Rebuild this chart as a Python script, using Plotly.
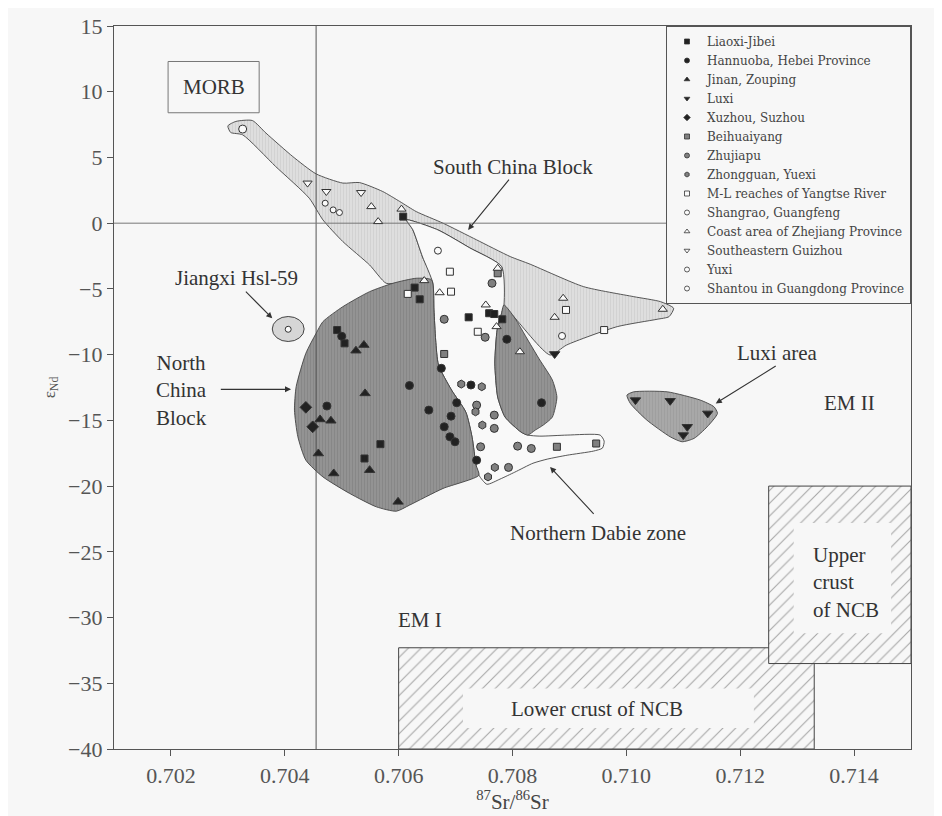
import plotly.graph_objects as go

# ---------------- data ----------------
SERIES_NAMES = ["Liaoxi-Jibei", "Hannuoba, Hebei Province", "Jinan, Zouping", "Luxi",
                "Xuzhou, Suzhou", "Beihuaiyang", "Zhujiapu", "Zhongguan, Yuexi",
                "M-L reaches of Yangtse River", "Shangrao, Guangfeng",
                "Coast area of Zhejiang Province", "Southeastern Guizhou", "Yuxi",
                "Shantou in Guangdong Province"]

liaoxi_x = [0.70608, 0.70628, 0.70637, 0.70723, 0.70759, 0.70768, 0.70782, 0.70492, 0.70505, 0.70568, 0.70540]
liaoxi_y = [0.50, -4.90, -5.79, -7.16, -6.85, -6.91, -7.31, -8.13, -9.14, -16.81, -17.90]

hannuoba_x = [0.70790, 0.70500, 0.70675, 0.70619, 0.70727, 0.70702, 0.70653, 0.70474, 0.70692, 0.70680, 0.70690, 0.70699, 0.70737, 0.70851]
hannuoba_y = [-8.83, -8.60, -11.04, -12.35, -12.31, -13.66, -14.22, -13.91, -14.68, -15.49, -16.25, -16.63, -18.03, -13.66]

jinan_x = [0.70539, 0.70525, 0.70541, 0.70462, 0.70481, 0.70459, 0.70549, 0.70486, 0.70599]
jinan_y = [-9.27, -9.70, -12.95, -14.93, -15.03, -17.52, -18.79, -19.04, -21.20]

luxi_x = [0.70874, 0.71016, 0.71077, 0.71143, 0.71107, 0.71100]
luxi_y = [-9.95, -13.46, -13.51, -14.47, -15.49, -16.12]

xuzhou_x = [0.70437, 0.70449]
xuzhou_y = [-14.01, -15.49]

beihuai_x = [0.70774, 0.70680, 0.70878, 0.70947]
beihuai_y = [-3.81, -9.95, -17.01, -16.76]

zhujiapu_x = [0.70764, 0.70680, 0.70752, 0.70737, 0.70768, 0.70768, 0.70744, 0.70793, 0.70809, 0.70833]
zhujiapu_y = [-4.57, -7.31, -8.68, -13.84, -14.60, -15.61, -17.01, -18.58, -16.96, -17.14]

zhongguan_x = [0.70710, 0.70746, 0.70735, 0.70747, 0.70769, 0.70757]
zhongguan_y = [-12.24, -12.44, -14.35, -15.36, -18.58, -19.30]

ml_x = [0.70690, 0.70616, 0.70692, 0.70739, 0.70894, 0.70961]
ml_y = [-3.69, -5.38, -5.21, -8.26, -6.60, -8.13]

shangrao_x = [0.70669, 0.70887]
shangrao_y = [-2.09, -8.58]

coast_x = [0.70552, 0.70564, 0.70605, 0.70645, 0.70672, 0.70774, 0.70753, 0.70772, 0.70813, 0.70874, 0.70889, 0.71064]
coast_y = [1.26, 0.12, 1.07, -4.37, -5.29, -3.43, -6.22, -7.87, -9.78, -7.16, -5.71, -6.55]

guizhou_x = [0.70440, 0.70473, 0.70534]
guizhou_y = [3.05, 2.41, 2.33]

yuxi_x = [0.70406, 0.70471, 0.70485, 0.70496]
yuxi_y = [-8.07, 1.52, 1.01, 0.81]

shantou_x = [0.70326]
shantou_y = [7.16]

# field outlines
scb_x = [0.70300, 0.70314, 0.70343, 0.70367, 0.70414, 0.70455, 0.70502, 0.70531, 0.70572, 0.70602, 0.70631,
         0.70678, 0.70737, 0.70796, 0.70831, 0.70925, 0.71013, 0.71060, 0.71083, 0.71075, 0.71054, 0.70984,
         0.70895, 0.70866, 0.70800, 0.70781, 0.70781, 0.70725, 0.70669, 0.70614, 0.70625, 0.70642, 0.70660,
         0.70602, 0.70578, 0.70549, 0.70502, 0.70467, 0.70443, 0.70384, 0.70326, 0.70305]
scb_y = [7.40, 7.74, 7.81, 6.85, 5.07, 3.75, 3.05, 3.09, 2.41, 1.65, 0.88,
         0.00, -1.27, -2.54, -3.12, -4.83, -5.59, -5.97, -6.47, -7.11, -7.31, -7.87,
         -9.27, -10.03, -7.00, -6.20, -3.31, -1.88, -0.51, 0.25, -0.51, -2.57, -4.55,
         -4.55, -4.57, -3.18, -1.40, 0.25, 1.90, 4.31, 6.72, 6.90]

dabie_x = [0.70614, 0.70625, 0.70642, 0.70660, 0.70662, 0.70665, 0.70670, 0.70693, 0.70718, 0.70729, 0.70736,
           0.70741, 0.70755, 0.70778, 0.70804, 0.70836, 0.70861, 0.70896, 0.70942, 0.70958, 0.70961, 0.70954,
           0.70896, 0.70848, 0.70827, 0.70815, 0.70787, 0.70774, 0.70769, 0.70773, 0.70780, 0.70785, 0.70781,
           0.70725, 0.70669]
dabie_y = [0.25, -0.51, -2.57, -4.55, -6.60, -8.89, -10.79, -12.70, -14.37, -16.28, -18.41,
           -19.17, -19.86, -19.47, -18.94, -18.26, -17.95, -17.65, -17.34, -17.11, -16.58, -16.12,
           -16.12, -16.20, -16.12, -15.89, -14.75, -13.23, -10.64, -8.13, -6.98, -6.22, -3.31,
           -1.88, -0.51]

ncb_x = [0.70467, 0.70502, 0.70549, 0.70590, 0.70631, 0.70658, 0.70662, 0.70665, 0.70670, 0.70693, 0.70718,
         0.70729, 0.70736, 0.70741, 0.70678, 0.70619, 0.70596, 0.70561, 0.70514, 0.70467, 0.70437, 0.70423,
         0.70417, 0.70420, 0.70437, 0.70455]
ncb_y = [-7.49, -6.35, -5.21, -4.57, -4.19, -4.32, -6.60, -8.89, -10.79, -12.70, -14.37,
         -16.28, -18.41, -19.17, -20.18, -21.45, -21.91, -21.58, -20.56, -19.30, -18.03, -16.25,
         -14.22, -12.44, -9.90, -8.38]

lobe_x = [0.70785, 0.70804, 0.70827, 0.70848, 0.70870, 0.70878, 0.70870, 0.70854, 0.70840, 0.70827,
          0.70815, 0.70787, 0.70774, 0.70769, 0.70773, 0.70780]
lobe_y = [-6.22, -7.21, -8.89, -10.41, -11.93, -13.23, -14.75, -15.36, -15.74, -16.12,
          -15.89, -14.75, -13.23, -10.64, -8.13, -6.98]

luxi_area_x = [0.71001, 0.71013, 0.71072, 0.71130, 0.71154, 0.71160, 0.71142, 0.71119, 0.71098, 0.71077, 0.71036, 0.71007]
luxi_area_y = [-13.08, -12.83, -12.83, -13.46, -13.97, -14.47, -15.49, -16.37, -16.63, -16.25, -14.98, -13.71]

jiangxi_x = [0.70378, 0.70434]
jiangxi_y = [-9.00, -7.10]

morb_x = [0.70195, 0.70355]
morb_y = [8.40, 12.30]

lower_crust_x = [0.70600, 0.71330]
lower_crust_y = [-40.0, -32.3]
upper_crust_x = [0.71250, 0.71500]
upper_crust_y = [-33.5, -20.0]

BSE_SR = 0.70455
CHUR_ND = 0.0

x_ticks = [0.702, 0.704, 0.706, 0.708, 0.710, 0.712, 0.714]
x_tick_text = ["0.702", "0.704", "0.706", "0.708", "0.710", "0.712", "0.714"]
y_ticks = [15, 10, 5, 0, -5, -10, -15, -20, -25, -30, -35, -40]

# ---------------- figure ----------------
BG = "#f7f7f7"
INK = "#444444"
FONT = "Liberation Serif"

fig = go.Figure()


def poly(xs, ys, fill, pattern=None, lw=0.9):
    fig.add_trace(go.Scatter(
        x=xs + xs[:1], y=ys + ys[:1], mode="lines", fill="toself", fillcolor=fill,
        fillpattern=pattern, line=dict(color=INK, width=lw, shape="spline", smoothing=0.6),
        hoverinfo="skip", showlegend=False))


def box(xr, yr, pattern):
    xs = [xr[0], xr[1], xr[1], xr[0], xr[0]]
    ys = [yr[0], yr[0], yr[1], yr[1], yr[0]]
    fig.add_trace(go.Scatter(x=xs, y=ys, mode="lines", fill="toself", fillcolor=BG,
                             fillpattern=pattern, line=dict(color=INK, width=1),
                             hoverinfo="skip", showlegend=False))


hatch = dict(shape="/", fgcolor="#555555", bgcolor=BG, size=9, solidity=0.12)
box(lower_crust_x, lower_crust_y, hatch)
box(upper_crust_x, upper_crust_y, hatch)

poly(scb_x, scb_y, "#dcdcdc", dict(shape="|", fgcolor="#c6c6c6", bgcolor="#dedede", size=3, solidity=0.35))
poly(dabie_x, dabie_y, "#f9f9f9")
poly(ncb_x, ncb_y, "#8e8e8e", dict(shape="|", fgcolor="#7c7c7c", bgcolor="#939393", size=3, solidity=0.35))
poly(lobe_x, lobe_y, "#8e8e8e", dict(shape="|", fgcolor="#7c7c7c", bgcolor="#939393", size=3, solidity=0.35))
poly(luxi_area_x, luxi_area_y, "#a4a4a4", dict(shape="|", fgcolor="#959595", bgcolor="#a8a8a8", size=3, solidity=0.35))

# reference lines
fig.add_trace(go.Scatter(x=[BSE_SR, BSE_SR], y=[-40, 15], mode="lines",
                         line=dict(color="#555555", width=1), hoverinfo="skip", showlegend=False))
fig.add_trace(go.Scatter(x=[0.701, 0.7108], y=[CHUR_ND, CHUR_ND], mode="lines",
                         line=dict(color="#777777", width=1), hoverinfo="skip", showlegend=False))

DARK = "#222222"
MID = "#808080"
WHITE = "#fafafa"
series = [
    (liaoxi_x, liaoxi_y, "square", DARK, 7),
    (hannuoba_x, hannuoba_y, "circle", DARK, 8),
    (jinan_x, jinan_y, "triangle-up", DARK, 9),
    (luxi_x, luxi_y, "triangle-down", DARK, 9),
    (xuzhou_x, xuzhou_y, "diamond", DARK, 9),
    (beihuai_x, beihuai_y, "square", MID, 7),
    (zhujiapu_x, zhujiapu_y, "circle", MID, 8),
    (zhongguan_x, zhongguan_y, "hexagon", MID, 8),
    (ml_x, ml_y, "square", WHITE, 7),
    (shangrao_x, shangrao_y, "circle", WHITE, 7),
    (coast_x, coast_y, "triangle-up", WHITE, 8),
    (guizhou_x, guizhou_y, "triangle-down", WHITE, 8),
    (yuxi_x, yuxi_y, "circle", WHITE, 6),
    (shantou_x, shantou_y, "circle", WHITE, 8),
]
for name, (xs, ys, sym, col, sz) in zip(SERIES_NAMES, series):
    fig.add_trace(go.Scatter(x=xs, y=ys, mode="markers", name=name, legendgroup=name, showlegend=False,
                             marker=dict(symbol=sym, color=col, size=sz,
                                         line=dict(color="#333333", width=1))))
    # compact legend entry (small symbol as in the printed key)
    fig.add_trace(go.Scatter(x=[None], y=[None], mode="markers", name=name, legendgroup=name,
                             marker=dict(symbol=sym, color=col, size=5,
                                         line=dict(color="#333333", width=0.8))))

shapes = [
    dict(type="circle", xref="x", yref="y", x0=jiangxi_x[0], x1=jiangxi_x[1], y0=jiangxi_y[0], y1=jiangxi_y[1],
         fillcolor="#d6d6d6", line=dict(color=INK, width=1), layer="below"),
    dict(type="rect", xref="x", yref="y", x0=morb_x[0], x1=morb_x[1], y0=morb_y[0], y1=morb_y[1],
         line=dict(color="#777777", width=1), layer="below"),
    dict(type="rect", xref="x", yref="y", x0=0.70713, x1=0.71224, y0=-38.4, y1=-35.4,
         fillcolor=BG, line=dict(width=0), layer="above"),
    dict(type="rect", xref="x", yref="y", x0=0.71294, x1=0.71465, y0=-31.2, y1=-22.8,
         fillcolor=BG, line=dict(width=0), layer="above"),
]

TF = dict(family=FONT, size=21, color="#333333")


def label(text, x, y, **kw):
    return dict(text=text, x=x, y=y, xref="x", yref="y", showarrow=False, font=TF, **kw)


def arrow(x0, y0, x1, y1):
    return dict(text="", x=x1, y=y1, ax=x0, ay=y0, xref="x", yref="y", axref="x", ayref="y",
                showarrow=True, arrowhead=2, arrowsize=1.1, arrowwidth=1.1, arrowcolor="#333333")


annotations = [
    label("MORB", (morb_x[0] + morb_x[1]) / 2, (morb_y[0] + morb_y[1]) / 2),
    label("South China Block", 0.70801, 4.31),
    arrow(0.70796, 3.43, 0.70722, -0.51),
    label("Jiangxi Hsl-59", 0.70315, -4.19),
    arrow(0.70329, -5.09, 0.70378, -7.24),
    label("North<br>China<br>Block", 0.70219, -12.70),
    arrow(0.70285, -12.64, 0.70411, -12.64),
    label("Luxi area", 0.71265, -9.90),
    arrow(0.71265, -10.79, 0.71157, -13.71),
    label("EM II", 0.71392, -13.71),
    label("Northern Dabie zone", 0.70951, -23.56),
    arrow(0.70945, -22.22, 0.70866, -18.54),
    label("EM I", 0.70637, -30.16),
    label("Lower crust of NCB", 0.70948, -36.94),
    label("Upper<br>crust<br>of NCB", 0.71386, -27.37, align="left"),
]

axis_common = dict(showline=True, linecolor="#555555", linewidth=1.2, mirror=True, automargin=False,
                   ticks="outside", ticklen=6, tickcolor="#555555", showgrid=False, zeroline=False,
                   tickfont=dict(family=FONT, size=22, color="#555555"))

fig.update_layout(
    width=934, height=808,
    margin=dict(l=106, r=31, t=18, b=67),
    paper_bgcolor=BG, plot_bgcolor=BG,
    shapes=shapes, annotations=annotations,
    xaxis=dict(range=[0.701, 0.715], tickvals=x_ticks, ticktext=x_tick_text,
               title=dict(text="<sup>87</sup>Sr/<sup>86</sup>Sr", font=dict(family=FONT, size=21, color="#444444"),
                          standoff=2), **axis_common),
    yaxis=dict(range=[-40, 15], tickvals=y_ticks,
               title=dict(text="ε<sub>Nd</sub>", font=dict(family=FONT, size=17, color="#555555"),
                          standoff=8), **axis_common),
    legend=dict(x=1, y=1, xanchor="right", yanchor="top", bgcolor=BG, bordercolor="#555555",
                borderwidth=1, font=dict(family="DejaVu Serif", size=12, color="#444444"),
                tracegroupgap=0, itemwidth=30),
    showlegend=True,
)

fig.write_html("out.html")
